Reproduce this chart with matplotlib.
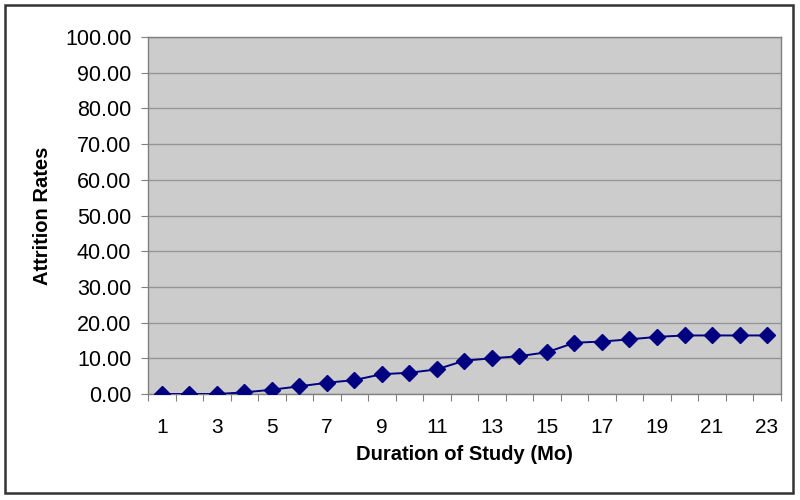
import matplotlib
matplotlib.use('Agg')
import matplotlib.pyplot as plt
from matplotlib.patches import Rectangle
import numpy as np

plt.rcParams['font.family'] = ['Liberation Sans', 'DejaVu Sans']

# data
months = list(range(1, 24))
attrition = [0.0, 0.0, 0.0, 0.45, 1.2, 2.15, 3.15, 3.9, 5.55, 5.95, 6.9, 9.35,
             10.0, 10.6, 11.7, 14.35, 14.7, 15.3, 16.0, 16.4, 16.4, 16.4, 16.4]
y_ticks = np.arange(0, 101, 10)
x_labels = [m for m in months if m % 2 == 1]

fig = plt.figure(figsize=(8, 5), dpi=100)
ax = fig.add_axes([0.185, 0.212, 0.791, 0.714])

# outer chart border
fig.patches.append(Rectangle((5 / 800, 7 / 500), 788 / 800, 488 / 500,
                             transform=fig.transFigure, fill=False,
                             edgecolor='#333333', linewidth=1.8))

ax.set_facecolor('#cccccc')
ax.plot(months, attrition, color='#000080', linewidth=1.4, marker='D',
        markersize=8, markerfacecolor='#000080', markeredgecolor='#000080',
        zorder=3)

ax.set_xlim(0.5, 23.5)
ax.set_ylim(0, 100)

ax.set_yticks(y_ticks)
ax.set_yticklabels(['%.2f' % v for v in y_ticks])
ax.yaxis.grid(True, color='#959595', linewidth=1.0)
ax.set_axisbelow(True)

# category axis: tick marks between categories, labels on odd months
ax.set_xticks(np.arange(0.5, 24, 1))
ax.set_xticklabels([])
ax.set_xticks(x_labels, minor=True)
ax.set_xticklabels([str(m) for m in x_labels], minor=True)
ax.tick_params(axis='x', which='major', length=5, color='#808080', direction='out')
ax.tick_params(axis='x', which='minor', length=0, pad=17, labelsize=15)
ax.tick_params(axis='y', length=5, color='#808080', pad=7, labelsize=15.5)

for s in ax.spines.values():
    s.set_color('#808080')
    s.set_linewidth(1.0)

ax.set_xlabel('Duration of Study (Mo)', fontsize=14.5, fontweight='bold', labelpad=6)
ax.set_ylabel('Attrition Rates', fontsize=14.5, fontweight='bold', labelpad=9)

fig.savefig('out.png', dpi=100)
